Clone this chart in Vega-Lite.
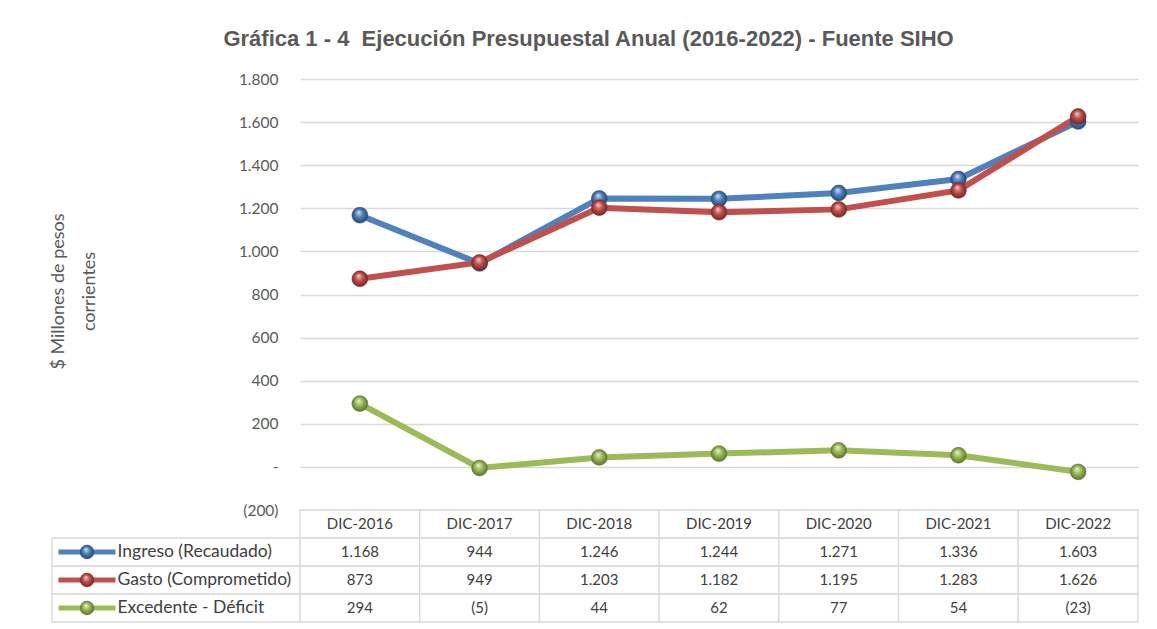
{
  "$schema": "https://vega.github.io/schema/vega-lite/v6.json",
  "background": "white",
  "padding": {"left": 48, "top": 28, "right": 5, "bottom": 2},
  "title": {
    "text": "Gráfica 1 - 4\u00a0 Ejecución Presupuestal Anual (2016-2022) - Fuente SIHO",
    "font": "Liberation Sans",
    "fontSize": 22,
    "fontWeight": "bold",
    "color": "#595959",
    "anchor": "middle",
    "dx": -5,
    "offset": 21
  },
  "datasets": {
    "d": [
      {"year": "DIC-2016", "serie": "Ingreso (Recaudado)", "value": 1168},
      {"year": "DIC-2017", "serie": "Ingreso (Recaudado)", "value": 944},
      {"year": "DIC-2018", "serie": "Ingreso (Recaudado)", "value": 1246},
      {"year": "DIC-2019", "serie": "Ingreso (Recaudado)", "value": 1244},
      {"year": "DIC-2020", "serie": "Ingreso (Recaudado)", "value": 1271},
      {"year": "DIC-2021", "serie": "Ingreso (Recaudado)", "value": 1336},
      {"year": "DIC-2022", "serie": "Ingreso (Recaudado)", "value": 1603},
      {"year": "DIC-2016", "serie": "Gasto (Comprometido)", "value": 873},
      {"year": "DIC-2017", "serie": "Gasto (Comprometido)", "value": 949},
      {"year": "DIC-2018", "serie": "Gasto (Comprometido)", "value": 1203},
      {"year": "DIC-2019", "serie": "Gasto (Comprometido)", "value": 1182},
      {"year": "DIC-2020", "serie": "Gasto (Comprometido)", "value": 1195},
      {"year": "DIC-2021", "serie": "Gasto (Comprometido)", "value": 1283},
      {"year": "DIC-2022", "serie": "Gasto (Comprometido)", "value": 1626},
      {"year": "DIC-2016", "serie": "Excedente - Déficit", "value": 294},
      {"year": "DIC-2017", "serie": "Excedente - Déficit", "value": -5},
      {"year": "DIC-2018", "serie": "Excedente - Déficit", "value": 44},
      {"year": "DIC-2019", "serie": "Excedente - Déficit", "value": 62},
      {"year": "DIC-2020", "serie": "Excedente - Déficit", "value": 77},
      {"year": "DIC-2021", "serie": "Excedente - Déficit", "value": 54},
      {"year": "DIC-2022", "serie": "Excedente - Déficit", "value": -23}
    ]
  },
  "columns": 2,
  "spacing": 0,
  "bounds": "flush",
  "concat": [
    {
      "width": 248,
      "height": 431,
      "data": {"values": []},
      "mark": "point"
    },
    {
      "width": 838,
      "height": 431,
      "data": {"name": "d"},
      "encoding": {
        "x": {"field": "year", "type": "ordinal", "sort": null, "scale": {"paddingInner": 0, "paddingOuter": 0}, "axis": null},
        "y": {
          "field": "value",
          "type": "quantitative",
          "scale": {"domain": [-200, 1800], "nice": false, "zero": false},
          "axis": {
            "values": [-200, 0, 200, 400, 600, 800, 1000, 1200, 1400, 1600, 1800],
            "format": "(,.0f",
            "labelExpr": "datum.value === 0 ? '-' : datum.label",
            "grid": true,
            "gridColor": "#d9d9d9",
            "gridWidth": 1.3,
            "domain": false,
            "ticks": false,
            "labelPadding": 22,
            "labelFont": "Lato",
            "labelFontSize": 15.5,
            "labelColor": "#595959",
            "title": ["$ Millones de pesos", "corrientes"],
            "titleFont": "Lato",
            "titleFontSize": 18,
            "titleFontWeight": "normal",
            "titleColor": "#595959",
            "titleAngle": -90,
            "titleAlign": "center",
            "titleBaseline": "middle",
            "titleLineHeight": 31,
            "titleX": -242,
            "titleY": 212
          }
        }
      },
      "layer": [
        {
          "mark": {"type": "line", "strokeWidth": 6},
          "encoding": {
            "color": {
              "field": "serie",
              "type": "nominal",
              "sort": null,
              "scale": {"domain": ["Ingreso (Recaudado)", "Gasto (Comprometido)", "Excedente - Déficit"], "range": ["#4f81bd", "#c0504d", "#9bbb59"]},
              "legend": null
            }
          }
        },
        {
          "transform": [{"filter": "datum.serie == 'Ingreso (Recaudado)'"}],
          "mark": {"type": "point", "filled": true, "opacity": 1, "size": 250, "stroke": "#2c4d75", "strokeWidth": 0.6,
            "fill": {"gradient": "radial", "x1": 0.42, "y1": 0.3, "r1": 0, "x2": 0.5, "y2": 0.5, "r2": 0.55,
              "stops": [{"offset": 0, "color": "#d3e3f7"}, {"offset": 0.45, "color": "#4f81bd"}, {"offset": 1, "color": "#1f3f66"}]}}
        },
        {
          "transform": [{"filter": "datum.serie == 'Gasto (Comprometido)'"}],
          "mark": {"type": "point", "filled": true, "opacity": 1, "size": 250, "stroke": "#772c2a", "strokeWidth": 0.6,
            "fill": {"gradient": "radial", "x1": 0.42, "y1": 0.3, "r1": 0, "x2": 0.5, "y2": 0.5, "r2": 0.55,
              "stops": [{"offset": 0, "color": "#f5cfce"}, {"offset": 0.45, "color": "#c0504d"}, {"offset": 1, "color": "#6e2220"}]}}
        },
        {
          "transform": [{"filter": "datum.serie == 'Excedente - Déficit'"}],
          "mark": {"type": "point", "filled": true, "opacity": 1, "size": 250, "stroke": "#5f7530", "strokeWidth": 0.6,
            "fill": {"gradient": "radial", "x1": 0.42, "y1": 0.3, "r1": 0, "x2": 0.5, "y2": 0.5, "r2": 0.55,
              "stops": [{"offset": 0, "color": "#eaf5d0"}, {"offset": 0.45, "color": "#9bbb59"}, {"offset": 1, "color": "#566d26"}]}}
        }
      ]
    },
    {
      "width": 248,
      "height": 112,
      "data": {"name": "d"},
      "transform": [{"filter": "datum.year == 'DIC-2016'"}],
      "encoding": {
        "y": {
          "field": "serie",
          "type": "nominal",
          "scale": {"domain": [" ", "Ingreso (Recaudado)", "Gasto (Comprometido)", "Excedente - Déficit"], "paddingInner": 0, "paddingOuter": 0},
          "axis": null
        }
      },
      "layer": [
        {"mark": {"type": "rect", "fill": "white", "stroke": "#d9d9d9", "strokeWidth": 1.3}},
        {
          "mark": {"type": "point", "shape": "stroke", "size": 3249, "strokeWidth": 5, "filled": false, "opacity": 1, "xOffset": -89},
          "encoding": {
            "color": {
              "field": "serie",
              "type": "nominal",
              "scale": {"domain": ["Ingreso (Recaudado)", "Gasto (Comprometido)", "Excedente - Déficit"], "range": ["#4f81bd", "#c0504d", "#9bbb59"]},
              "legend": null
            }
          }
        },
        {
          "transform": [{"filter": "datum.serie == 'Ingreso (Recaudado)'"}],
          "mark": {"type": "point", "filled": true, "opacity": 1, "size": 190, "xOffset": -89, "stroke": "#2c4d75", "strokeWidth": 0.6,
            "fill": {"gradient": "radial", "x1": 0.42, "y1": 0.3, "r1": 0, "x2": 0.5, "y2": 0.5, "r2": 0.55,
              "stops": [{"offset": 0, "color": "#d3e3f7"}, {"offset": 0.45, "color": "#4f81bd"}, {"offset": 1, "color": "#1f3f66"}]}}
        },
        {
          "transform": [{"filter": "datum.serie == 'Gasto (Comprometido)'"}],
          "mark": {"type": "point", "filled": true, "opacity": 1, "size": 190, "xOffset": -89, "stroke": "#772c2a", "strokeWidth": 0.6,
            "fill": {"gradient": "radial", "x1": 0.42, "y1": 0.3, "r1": 0, "x2": 0.5, "y2": 0.5, "r2": 0.55,
              "stops": [{"offset": 0, "color": "#f5cfce"}, {"offset": 0.45, "color": "#c0504d"}, {"offset": 1, "color": "#6e2220"}]}}
        },
        {
          "transform": [{"filter": "datum.serie == 'Excedente - Déficit'"}],
          "mark": {"type": "point", "filled": true, "opacity": 1, "size": 190, "xOffset": -89, "stroke": "#5f7530", "strokeWidth": 0.6,
            "fill": {"gradient": "radial", "x1": 0.42, "y1": 0.3, "r1": 0, "x2": 0.5, "y2": 0.5, "r2": 0.55,
              "stops": [{"offset": 0, "color": "#eaf5d0"}, {"offset": 0.45, "color": "#9bbb59"}, {"offset": 1, "color": "#566d26"}]}}
        }
      ]
    },
    {
      "width": 838,
      "height": 112,
      "data": {"name": "d"},
      "encoding": {
        "x": {"field": "year", "type": "ordinal", "sort": null, "scale": {"paddingInner": 0, "paddingOuter": 0}, "axis": null}
      },
      "layer": [
        {
          "mark": {"type": "rect", "fill": "white", "stroke": "#d9d9d9", "strokeWidth": 1.3},
          "encoding": {
            "y": {
              "field": "serie",
              "type": "nominal",
              "scale": {"domain": [" ", "Ingreso (Recaudado)", "Gasto (Comprometido)", "Excedente - Déficit"], "paddingInner": 0, "paddingOuter": 0},
              "axis": {
                "orient": "left",
                "offset": 183,
                "labelAlign": "left",
                "labelPadding": 0,
                "ticks": false,
                "domain": false,
                "grid": false,
                "title": null,
                "labelFont": "Lato",
                "labelFontSize": 17.5,
                "labelColor": "#404040",
                "labelLimit": 0
              }
            }
          }
        },
        {
          "transform": [{"filter": "datum.serie == 'Ingreso (Recaudado)'"}],
          "mark": {"type": "rect", "fill": "white", "stroke": "#d9d9d9", "strokeWidth": 1.3},
          "encoding": {"y": {"datum": " "}}
        },
        {
          "mark": {"type": "text", "font": "Lato", "fontSize": 15, "color": "#404040"},
          "encoding": {
            "y": {"field": "serie", "type": "nominal"},
            "text": {"field": "value", "type": "quantitative", "format": "(,.0f"}
          }
        },
        {
          "transform": [{"filter": "datum.serie == 'Ingreso (Recaudado)'"}],
          "mark": {"type": "text", "font": "Lato", "fontSize": 15, "color": "#404040"},
          "encoding": {
            "y": {"datum": " "},
            "text": {"field": "year", "type": "nominal"}
          }
        }
      ]
    }
  ],
  "config": {
    "locale": {"number": {"decimal": ",", "thousands": ".", "grouping": [3], "currency": ["$", ""]}},
    "font": "Lato",
    "view": {"stroke": null}
  }
}
